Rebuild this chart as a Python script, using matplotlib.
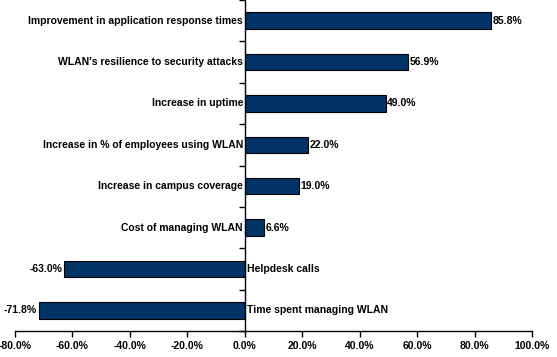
import matplotlib.pyplot as plt
import numpy as np
from matplotlib.ticker import FixedLocator

categories = [
    "Improvement in application response times",
    "WLAN's resilience to security attacks",
    "Increase in uptime",
    "Increase in % of employees using WLAN",
    "Increase in campus coverage",
    "Cost of managing WLAN",
    "Helpdesk calls",
    "Time spent managing WLAN",
]
values = [85.8, 56.9, 49.0, 22.0, 19.0, 6.6, -63.0, -71.8]
xticks = [-80, -60, -40, -20, 0, 20, 40, 60, 80, 100]

plt.rcParams['font.family'] = ['Liberation Sans', 'DejaVu Sans']

fig = plt.figure(figsize=(5.57, 3.57), dpi=100)
ax = fig.add_axes([15 / 557, 26 / 357, 517 / 557, 331 / 357])

n = len(categories)
y = np.arange(n)[::-1]
ax.barh(y, values, height=0.4, color='#003366', edgecolor='black', linewidth=0.8, zorder=2)

ax.set_xlim(-80, 100)
ax.set_ylim(-0.5, n - 0.5)

fs = 7.5
for yi, cat, v in zip(y, categories, values):
    if v >= 0:
        ax.text(-0.6, yi, cat, ha='right', va='center', fontsize=fs, fontweight='bold')
        ax.text(v + 0.5, yi, f"{v:.1f}%", ha='left', va='center', fontsize=fs, fontweight='bold')
    else:
        ax.text(0.6, yi, cat, ha='left', va='center', fontsize=fs, fontweight='bold')
        ax.text(v - 0.5, yi, f"{v:.1f}%", ha='right', va='center', fontsize=fs, fontweight='bold')

ax.spines['top'].set_visible(False)
ax.spines['right'].set_visible(False)
ax.spines['left'].set_position(('data', 0))
ax.spines['left'].set_linewidth(1.0)
ax.spines['bottom'].set_linewidth(1.0)

ax.set_xticks(xticks)
ax.set_xticklabels([f"{t:.1f}%" for t in xticks], fontsize=fs, fontweight='bold')
ax.yaxis.set_major_locator(FixedLocator(np.arange(n + 1) - 0.5))
ax.set_yticklabels([])
ax.tick_params(axis='both', direction='out', length=4, width=1.0, pad=3)

fig.savefig('out.png', dpi=100)
